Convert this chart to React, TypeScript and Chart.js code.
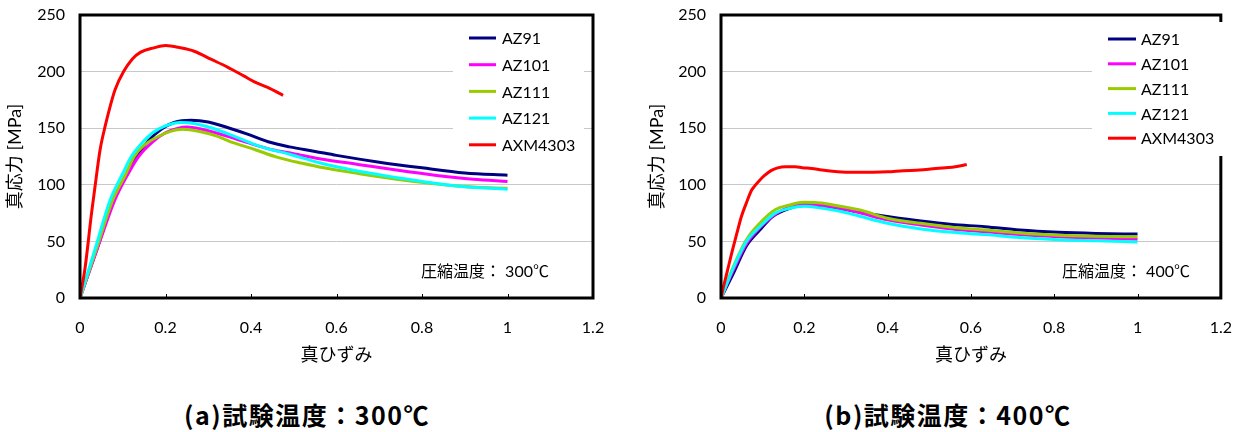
import React, { useEffect, useRef } from "react";
import { Chart, registerables } from "chart.js";

Chart.register(...registerables);

type Pt = [number, number];

// Series names and line colours (shared by both panels)
const SERIES_NAMES = ["AZ91", "AZ101", "AZ111", "AZ121", "AXM4303"];
const SERIES_COLORS = ["#000080", "#FF00FF", "#99CC00", "#00FFFF", "#FF0000"];

// Axis ticks
const X_TICKS = [0, 0.2, 0.4, 0.6, 0.8, 1, 1.2];
const Y_TICKS = [0, 50, 100, 150, 200, 250];

// True strain / true stress [MPa] curves, compression at 300 °C
const AZ91_300: Pt[] = [
  [0, 0], [0.04, 44], [0.08, 87], [0.107, 108], [0.132, 125], [0.16, 139], [0.19, 149],
  [0.22, 155], [0.26, 157], [0.3, 155.5], [0.35, 150], [0.39, 145], [0.44, 138],
  [0.49, 133.5], [0.55, 129.5], [0.6, 126], [0.7, 120], [0.8, 115], [0.9, 110.5], [1.0, 108.5],
];
const AZ101_300: Pt[] = [
  [0, 0], [0.041, 44], [0.082, 87], [0.11, 108], [0.137, 125], [0.17, 138], [0.2, 146],
  [0.23, 150], [0.25, 151], [0.28, 149.5], [0.34, 143.5], [0.39, 137.5], [0.45, 131],
  [0.5, 127.5], [0.56, 123], [0.65, 118], [0.74, 113], [0.83, 108.5], [0.92, 105], [1.0, 103],
];
const AZ111_300: Pt[] = [
  [0, 0], [0.038, 43], [0.077, 87], [0.105, 108], [0.127, 125], [0.15, 135], [0.19, 144],
  [0.21, 147], [0.24, 149], [0.28, 147], [0.32, 143], [0.36, 137], [0.41, 131],
  [0.46, 124.5], [0.52, 119], [0.57, 115], [0.65, 110], [0.74, 105], [0.83, 101], [0.92, 98], [1.0, 97],
];
const AZ121_300: Pt[] = [
  [0, 0], [0.035, 43], [0.071, 87], [0.1, 110], [0.12, 125], [0.145, 137], [0.17, 146],
  [0.2, 152], [0.235, 155], [0.27, 154], [0.31, 150], [0.36, 143], [0.42, 134], [0.49, 127],
  [0.56, 119.5], [0.6, 116], [0.69, 109.5], [0.79, 103.5], [0.88, 99], [1.0, 96],
];
const AXM4303_300: Pt[] = [
  [0, 0], [0.012, 27], [0.027, 75], [0.035, 98], [0.047, 131], [0.059, 152], [0.071, 170],
  [0.082, 184], [0.102, 200], [0.122, 211], [0.141, 217], [0.173, 221], [0.2, 223],
  [0.235, 221], [0.267, 218], [0.306, 211], [0.345, 204], [0.384, 196], [0.408, 191],
  [0.439, 186], [0.475, 179],
];

// True strain / true stress [MPa] curves, compression at 400 °C
const AZ91_400: Pt[] = [
  [0, 0], [0.03, 22], [0.061, 46], [0.093, 60], [0.124, 72], [0.163, 79], [0.2, 82],
  [0.24, 81.5], [0.28, 79.5], [0.336, 75.5], [0.4, 72], [0.48, 68], [0.555, 65],
  [0.634, 63], [0.717, 60], [0.81, 58], [0.9, 57], [1.0, 56.5],
];
const AZ101_400: Pt[] = [
  [0, 0], [0.03, 25], [0.061, 48], [0.093, 62], [0.13, 74], [0.163, 80], [0.2, 83],
  [0.24, 82], [0.28, 80], [0.336, 75], [0.4, 69], [0.48, 64.5], [0.555, 61],
  [0.634, 58.5], [0.717, 56], [0.81, 54], [0.9, 53], [1.0, 52],
];
const AZ111_400: Pt[] = [
  [0, 0], [0.03, 28], [0.061, 51.5], [0.093, 66], [0.13, 78], [0.163, 82], [0.2, 84.5],
  [0.24, 84], [0.28, 81.5], [0.336, 77.5], [0.4, 70.5], [0.48, 66], [0.555, 62.5],
  [0.634, 60], [0.717, 57.5], [0.81, 55.5], [0.9, 54.5], [1.0, 54],
];
const AZ121_400: Pt[] = [
  [0, 0], [0.03, 27], [0.061, 50], [0.093, 63], [0.13, 75], [0.163, 79], [0.2, 81],
  [0.24, 79.5], [0.28, 77], [0.32, 73.5], [0.4, 66], [0.48, 61], [0.555, 58],
  [0.634, 56], [0.717, 53.5], [0.81, 51.5], [0.9, 50.5], [1.0, 49.5],
];
const AXM4303_400: Pt[] = [
  [0, 0], [0.006, 10], [0.014, 22], [0.026, 40], [0.038, 57], [0.049, 72], [0.061, 84],
  [0.073, 95], [0.081, 99], [0.093, 104], [0.104, 108], [0.12, 112.5], [0.136, 115],
  [0.155, 116], [0.179, 116], [0.195, 115], [0.218, 114.5], [0.242, 113], [0.28, 111.5],
  [0.32, 111], [0.4, 111.5], [0.438, 112.5], [0.477, 113], [0.516, 114.5], [0.555, 115.5],
  [0.579, 117], [0.59, 118],
];

const X_TITLE = "真ひずみ";
const Y_TITLE = "真応力 [MPa]";

const FONT = "Lato, 'Noto Sans CJK JP', sans-serif";

type Panel = {
  left: number;
  width: number;
  yAxisWidth: number;
  padRight: number;
  yTitlePad: number;
  legend: { box: [number, number, number, number]; lineX: number; lineLen: number; textX: number; y0: number; dy: number };
  note: { text: string; x: number; y: number };
  caption: string;
  captionX: number;
  series: Pt[][];
};

const PANELS: Panel[] = [
  {
    left: 0,
    width: 626,
    yAxisWidth: 80,
    padRight: 33,
    yTitlePad: 4,
    legend: { box: [453, 22, 131, 138], lineX: 469, lineLen: 27, textX: 502, y0: 38, dy: 26.7 },
    note: { text: "圧縮温度： 300℃", x: 421, y: 272 },
    caption: "(a)試験温度：300℃",
    captionX: 307,
    series: [AZ91_300, AZ101_300, AZ111_300, AZ121_300, AXM4303_300],
  },
  {
    left: 626,
    width: 626,
    yAxisWidth: 95,
    padRight: 20,
    yTitlePad: 20,
    legend: { box: [466, 22, 135, 134], lineX: 482, lineLen: 28, textX: 515, y0: 39, dy: 24.8 },
    note: { text: "圧縮温度： 400℃", x: 436, y: 272 },
    caption: "(b)試験温度：400℃",
    captionX: 948,
    series: [AZ91_400, AZ101_400, AZ111_400, AZ121_400, AXM4303_400],
  },
];

const CANVAS_H = 370;
const TOP_PAD = 15;
const X_AXIS_H = 72;

function makeDecorPlugin(panel: Panel) {
  return {
    id: "decor",
    afterDatasetsDraw(chart: any) {
      const { ctx, chartArea } = chart;
      const { left, right, top, bottom } = chartArea;
      const xScale = chart.scales.x;
      ctx.save();

      // Inner tick marks along the bottom axis
      ctx.strokeStyle = "#000";
      ctx.lineWidth = 1;
      X_TICKS.forEach((v) => {
        const px = Math.round(xScale.getPixelForValue(v)) + 0.5;
        ctx.beginPath();
        ctx.moveTo(px, bottom);
        ctx.lineTo(px, bottom - 4);
        ctx.stroke();
      });

      // Plot frame
      ctx.lineWidth = 3;
      ctx.strokeRect(left, top, right - left, bottom - top);

      // Legend
      const lg = panel.legend;
      ctx.fillStyle = "#fff";
      ctx.fillRect(lg.box[0], lg.box[1], lg.box[2], lg.box[3]);
      ctx.font = `16px ${FONT}`;
      ctx.textBaseline = "middle";
      ctx.textAlign = "left";
      chart.data.datasets.forEach((ds: any, i: number) => {
        const y = lg.y0 + lg.dy * i;
        ctx.strokeStyle = ds.borderColor;
        ctx.lineWidth = 3;
        ctx.beginPath();
        ctx.moveTo(lg.lineX, y);
        ctx.lineTo(lg.lineX + lg.lineLen, y);
        ctx.stroke();
        ctx.fillStyle = "#000";
        ctx.fillText(ds.label, lg.textX, y + 1);
      });

      // Temperature note
      ctx.fillStyle = "#000";
      ctx.font = `16px ${FONT}`;
      ctx.fillText(panel.note.text, panel.note.x, panel.note.y);
      ctx.restore();
    },
  };
}

function ChartPanel({ panel }: { panel: Panel }) {
  const ref = useRef<HTMLCanvasElement | null>(null);

  useEffect(() => {
    if (!ref.current) return;
    const datasets = panel.series.map((pts, i) => ({
      label: SERIES_NAMES[i],
      data: pts.map(([x, y]) => ({ x, y })),
      borderColor: SERIES_COLORS[i],
      backgroundColor: SERIES_COLORS[i],
      borderWidth: 3,
      pointRadius: 0,
      fill: false,
      cubicInterpolationMode: "monotone" as const,
      order: SERIES_NAMES.length - i,
    }));

    const chart = new Chart(ref.current, {
      type: "line",
      data: { datasets },
      plugins: [makeDecorPlugin(panel)],
      options: {
        responsive: false,
        animation: false,
        devicePixelRatio: 1,
        layout: { padding: { top: TOP_PAD, right: panel.padRight, bottom: 0, left: 0 } },
        plugins: { legend: { display: false }, tooltip: { enabled: false } },
        events: [],
        scales: {
          x: {
            type: "linear",
            min: 0,
            max: 1.2,
            afterBuildTicks: (s: any) => {
              s.ticks = X_TICKS.map((v) => ({ value: v }));
            },
            afterFit: (s: any) => {
              s.height = X_AXIS_H;
            },
            grid: { display: false, drawTicks: false },
            border: { display: false },
            ticks: {
              padding: 20,
              color: "#000",
              font: { family: FONT, size: 16 },
              maxRotation: 0,
              callback: (v: any) => String(v),
            },
            title: {
              display: true,
              text: X_TITLE,
              color: "#000",
              font: { family: FONT, size: 18 },
              padding: { top: 0, bottom: 4 },
            },
          },
          y: {
            type: "linear",
            min: 0,
            max: 250,
            afterBuildTicks: (s: any) => {
              s.ticks = Y_TICKS.map((v) => ({ value: v }));
            },
            afterFit: (s: any) => {
              s.width = panel.yAxisWidth;
              s.paddingTop = 0;
              s.paddingBottom = 0;
            },
            grid: { color: "#c8c8c8", lineWidth: 1, drawTicks: false },
            border: { display: false },
            ticks: {
              padding: 15,
              color: "#000",
              font: { family: FONT, size: 16 },
              callback: (v: any) => String(v),
            },
            title: {
              display: true,
              text: Y_TITLE,
              color: "#000",
              font: { family: FONT, size: 18 },
              padding: { top: panel.yTitlePad, bottom: 0 },
            },
          },
        },
      },
    } as any);

    return () => chart.destroy();
  }, [panel]);

  return (
    <canvas
      ref={ref}
      width={panel.width}
      height={CANVAS_H}
      style={{ position: "absolute", left: panel.left, top: 0, width: panel.width, height: CANVAS_H, display: "block" }}
    />
  );
}

export default function App() {
  return (
    <div style={{ position: "fixed", left: 0, top: 0, width: 1252, height: 432, background: "#fff", overflow: "hidden" }}>
      {PANELS.map((p, i) => (
        <ChartPanel key={i} panel={p} />
      ))}
      {PANELS.map((p, i) => (
        <div
          key={"c" + i}
          style={{
            position: "absolute",
            left: p.captionX - 200,
            width: 400,
            top: 398,
            textAlign: "center",
            fontFamily: "'Noto Sans CJK JP', sans-serif",
            fontWeight: 700,
            fontSize: 25,
            letterSpacing: 1.5,
            lineHeight: "32px",
            color: "#000",
            whiteSpace: "nowrap",
          }}
        >
          {p.caption}
        </div>
      ))}
    </div>
  );
}
